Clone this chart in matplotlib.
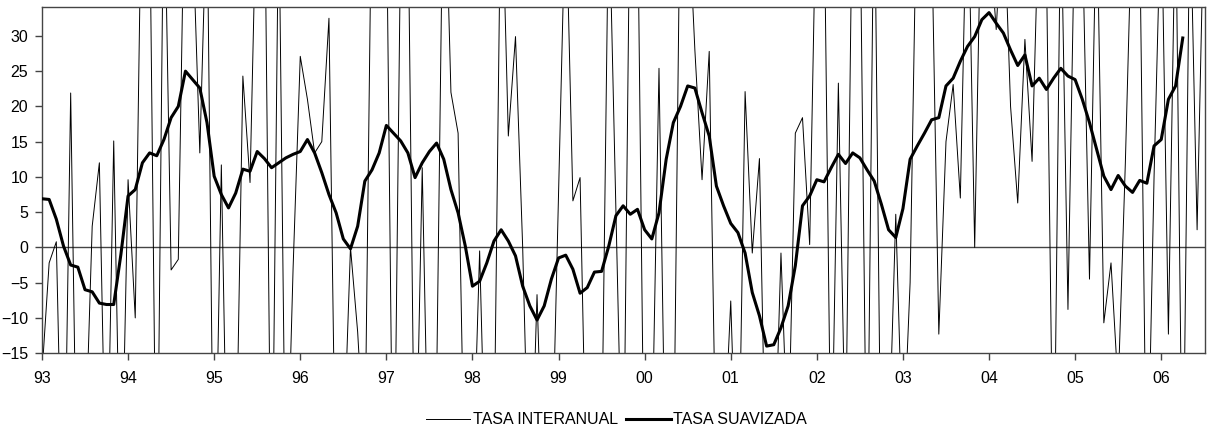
import numpy as np
import matplotlib.pyplot as plt

plt.rcParams['font.family'] = ['Liberation Sans', 'DejaVu Sans']

# monthly data starting Jan 1993
# values beyond the axis range are clipped by the plot (like the original)
tasa_interanual = [
    -18, -2.2, 0.8, -45, 21.9, -45, -30, 3, 12, -40, 15.1, -40,
    9.6, -10, 60, 50, -45, 55, -3.2, -1.7, 60, 45, 13.4, 50,
    -45, 11.7, -45, -35, 24.3, 9.2, 55, 55, -45, 50, -40, -3,
    27.1, 21, 13.4, 15, 32.5, -40, -30, 0, -12, -30, 55, 60,
    50, -45, 45, 50, -40, 11.3, -40, -20, 60, 22, 16.2, -40,
    -35, -0.5, -40, -30, 55, 15.8, 29.9, 0, -40, -6.7, -40, -35,
    8, 50, 6.6, 9.9, -40, -45, -30, 50, 5, -40, 55, 50,
    -40, -30, 25.4, -40, -35, 55, 50, 28, 9.6, 27.8, -35, -30,
    -7.6, -40, 22.1, -0.8, 12.6, -40, -35, -0.8, -30, 16.2, 18.4, 0.4,
    55, 50, -35, 23.3, -30, 55, 50, -40, 55, -40, -30, 4.7,
    -30, -5, 55, 60, 45, -12.3, 15, 23.1, 7.0, 55, 0, 55,
    45, 30.9, 50, 20, 6.3, 29.5, 12.2, 50, 40, -40, 50, -8.8,
    50, 45, -4.5, 50, -10.7, -2.2, -20, 12, 50, 45, -40, 10,
    50, -12.3, 50, -40, 50, 2.5, 50,
]

tasa_suavizada = [
    6.9, 6.8, 4.0, 0.2, -2.5, -2.8, -6.0, -6.3, -7.9, -8.1, -8.1, -1.0,
    7.3, 8.2, 12.0, 13.4, 13.0, 15.3, 18.4, 20.0, 25.0, 23.8, 22.6, 17.7,
    10.1, 7.5, 5.6, 7.7, 11.1, 10.8, 13.6, 12.6, 11.3, 12.0, 12.7, 13.2,
    13.6, 15.3, 13.4, 10.6, 7.5, 4.9, 1.2, -0.2, 3.0, 9.4, 11.0, 13.4,
    17.3, 16.2, 15.1, 13.4, 9.9, 12.0, 13.6, 14.8, 12.5, 8.2, 4.9, 0.2,
    -5.5, -4.8, -2.2, 0.9, 2.5, 0.9, -1.2, -5.5, -8.3, -10.3, -8.3, -4.5,
    -1.5, -1.1, -3.1, -6.5, -5.7, -3.5, -3.4, 0.2, 4.5, 5.9, 4.7, 5.4,
    2.5, 1.2, 4.9, 12.5, 17.7, 20.0, 22.9, 22.6, 19.1, 15.8, 8.7, 5.9,
    3.4, 2.1, -0.8, -6.4, -9.7, -14.0, -13.8, -11.4, -8.3, -2.6, 5.9, 7.3,
    9.6, 9.3, 11.3, 13.2, 11.9, 13.4, 12.7, 11.0, 9.4, 6.1, 2.5, 1.4,
    5.5, 12.5, 14.4, 16.2, 18.1, 18.4, 22.9, 24.0, 26.4, 28.5, 29.9, 32.3,
    33.3, 31.8, 30.4, 28.0, 25.8, 27.3, 22.9, 24.0, 22.4, 24.0, 25.4, 24.3,
    23.8, 21.0, 17.7, 13.9, 10.1, 8.2, 10.2, 8.7, 7.8, 9.5, 9.1, 14.4,
    15.3, 21.0, 22.9, 29.7,
]

year_labels = ['93', '94', '95', '96', '97', '98', '99', '00',
               '01', '02', '03', '04', '05', '06']

fig = plt.figure(figsize=(12.13, 4.36), dpi=100)
ax = fig.add_axes([0.0346, 0.190, 0.9588, 0.794])

x1 = np.arange(len(tasa_interanual))
x2 = np.arange(len(tasa_suavizada))

ax.axhline(0, color='#444444', lw=1.0, zorder=1)
ax.plot(x1, tasa_interanual, color='black', lw=0.7, label='TASA INTERANUAL', zorder=2)
ax.plot(x2, tasa_suavizada, color='black', lw=2.2, label='TASA SUAVIZADA', zorder=3)

ax.set_xlim(0, 162.1)
ax.set_ylim(-15, 34.1)
ax.set_yticks(np.arange(-15, 31, 5))
ax.set_xticks(np.arange(len(year_labels)) * 12)
ax.set_xticklabels(year_labels)

ax.tick_params(axis='both', direction='out', length=5, width=1,
               color='#444444', labelsize=11.5)
ax.tick_params(axis='x', pad=8)
ax.tick_params(axis='y', pad=5)
for s in ax.spines.values():
    s.set_color('#444444')
    s.set_linewidth(1)

fig.legend(loc='center', bbox_to_anchor=(0.508, 0.037), ncol=2, frameon=False,
           fontsize=11.5, handlelength=2.8, handletextpad=0.15, columnspacing=0.5)

fig.savefig('out.png', dpi=100)
